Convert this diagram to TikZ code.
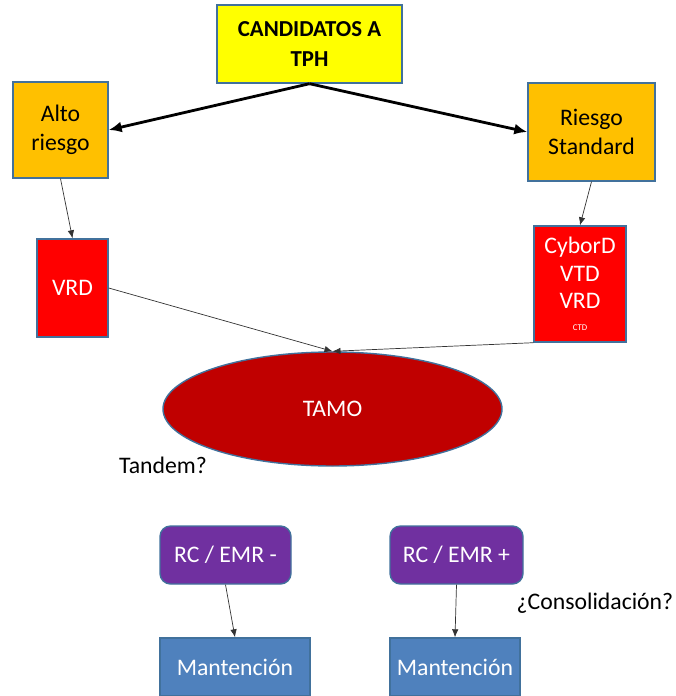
\documentclass[tikz,border=0pt]{standalone}
\usepackage{fontspec}
\setmainfont{Carlito}
\usetikzlibrary{positioning,arrows.meta,shapes.geometric}

\definecolor{boxborder}{HTML}{41719C}
\definecolor{amarillo}{HTML}{FFFF00}
\definecolor{naranja}{HTML}{FFC000}
\definecolor{rojo}{HTML}{FF0000}
\definecolor{rojooscuro}{HTML}{C00000}
\definecolor{morado}{HTML}{7030A0}
\definecolor{azul}{HTML}{4F81BD}

\begin{document}
\begin{tikzpicture}[
    every node/.style={font=\fontsize{13.5}{16.5}\selectfont},
    box/.style={rectangle, draw=boxborder, line width=0.8pt, align=center, fill=#1},
    darkbox/.style={box=#1, text=white},
    roundbox/.style={rectangle, rounded corners=6pt, draw=boxborder, line width=0.8pt, fill=morado, text=white, minimum height=1.16cm},
    bigarrow/.style={-{Latex[length=2.6mm, width=2.2mm]}, line width=1.6pt},
    arrow/.style={-{Latex[length=1.6mm, width=1.3mm]}, line width=0.4pt, color=black!80}
]
\useasboundingbox (0,0) rectangle (13.52,-13.92);

% Top
\node[box=amarillo, minimum width=3.7cm, minimum height=1.56cm, font=\fontsize{13}{17}\selectfont\bfseries] (cand) at (6.19,-0.88) {CANDIDATOS A\\TPH};

% Risk groups
\node[box=naranja, minimum width=1.9cm, minimum height=1.92cm] (alto) at (1.21,-2.60) {Alto\\riesgo};
\node[box=naranja, minimum width=2.54cm, minimum height=1.96cm] (std) at (11.83,-2.64) {Riesgo\\Standard};

% Induction
\node[darkbox=rojo, minimum width=1.42cm, minimum height=1.96cm] (vrd) at (1.45,-5.76) {VRD};
\node[darkbox=rojo, minimum width=1.84cm, minimum height=2.32cm, font=\fontsize{13.5}{15.5}\selectfont, inner sep=1pt] (cybd) at (11.60,-5.68) {CyborD\\VTD\\VRD\\[-3pt]{\fontsize{5}{6}\selectfont CTD}};

% TAMO
\node[ellipse, draw=boxborder, line width=0.8pt, fill=rojooscuro, text=white, minimum width=6.78cm, minimum height=2.28cm] (tamo) at (6.65,-8.18) {TAMO};
\node (tandem) at (3.26,-9.30) {Tandem?};

% Response
\node[roundbox, minimum width=2.62cm] (rcneg) at (4.51,-11.10) {RC / EMR -};
\node[roundbox, minimum width=2.66cm] (rcpos) at (9.13,-11.10) {RC / EMR +};
\node (consol) at (11.90,-12.06) {¿Consolidación?};

% Maintenance
\node[darkbox=azul, minimum width=3.0cm, minimum height=1.16cm] (mantneg) at (4.70,-13.34) {Mantención};
\node[darkbox=azul, minimum width=2.6cm, minimum height=1.16cm] (mantpos) at (9.10,-13.34) {Mantención};

% Arrows
\draw[bigarrow] (cand.south) -- (alto.east);
\draw[bigarrow] (cand.south) -- (std.west);
\draw[arrow] (alto.south) -- (vrd.north);
\draw[arrow] (std.south) -- (cybd.north);
\draw[arrow] (vrd.east) -- (tamo.north);
\draw[arrow] (cybd.south west) -- (tamo.north);
\draw[arrow] (rcneg.south) -- (mantneg.north);
\draw[arrow] (rcpos.south) -- (mantpos.north);

\end{tikzpicture}
\end{document}
